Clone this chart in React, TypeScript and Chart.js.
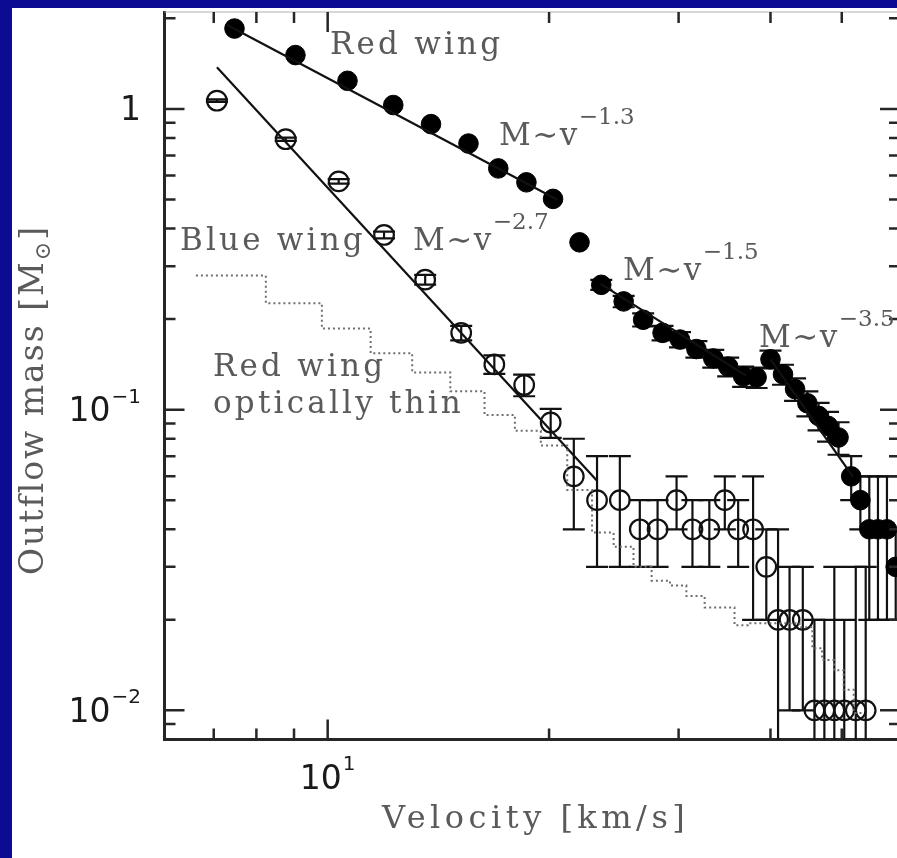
import React, { useEffect, useRef } from 'react';
import { Chart, registerables } from 'chart.js';

Chart.register(...registerables);

// ---------------- data ----------------
const redWingVelocity = [7.47, 9.04, 10.64, 12.28, 13.82, 15.54, 17.06, 18.63, 20.25, 22.0, 23.55, 25.26, 26.85, 28.53, 30.13, 31.72, 33.44, 35.04, 36.72, 38.3, 40.0, 41.6, 43.2, 44.9, 46.5, 47.9, 49.5, 51.5, 53.0, 54.5, 56.0, 57.6, 59.2];
const redWingMass = [1.85, 1.51, 1.24, 1.03, 0.89, 0.767, 0.634, 0.57, 0.502, 0.36, 0.26, 0.229, 0.199, 0.18, 0.171, 0.159, 0.148, 0.139, 0.129, 0.128, 0.147, 0.131, 0.117, 0.105, 0.0953, 0.0883, 0.0808, 0.06, 0.05, 0.04, 0.04, 0.04, 0.03];
const redWingError = [0, 0, 0, 0, 0, 0, 0, 0, 0, 0, 0.01, 0.01, 0.01, 0.01, 0.01, 0.01, 0.01, 0.01, 0.01, 0.01, 0.01, 0.01, 0.01, 0.01, 0.01, 0.01, 0.01, 0.01, 0.01, 0.02, 0.02, 0.02, 0.01];

const blueWingVelocity = [7.07, 8.77, 10.35, 11.93, 13.57, 15.19, 16.85, 18.5, 20.1, 21.61, 23.24, 24.96, 26.57, 28.09, 29.81, 31.33, 33.03, 34.67, 36.15, 37.88, 39.48, 40.96, 42.46, 44.26, 45.9, 47.35, 48.85, 50.39, 52.24, 53.89];
const blueWingMass = [1.065, 0.793, 0.574, 0.381, 0.2705, 0.18, 0.1414, 0.1208, 0.0906, 0.06, 0.05, 0.05, 0.04, 0.04, 0.05, 0.04, 0.04, 0.05, 0.04, 0.04, 0.03, 0.02, 0.02, 0.02, 0.01, 0.01, 0.01, 0.01, 0.01, 0.01];
const blueWingError = [0.01, 0.01, 0.01, 0.01, 0.01, 0.01, 0.01, 0.01, 0.01, 0.02, 0.02, 0.02, 0.01, 0.01, 0.01, 0.01, 0.01, 0.01, 0.01, 0.02, 0.01, 0.02, 0.01, 0.01, 0.01, 0.01, 0.02, 0.01, 0.02, 0.02];

// optically thin red wing (histogram: left bin edge, value)
const thinVelocity = [6.62, 8.24, 9.82, 11.44, 13.03, 14.68, 16.34, 17.97, 19.49, 21.17, 22.88, 24.48, 26.05, 27.57, 29.2, 30.74, 32.55, 35.74, 37.25, 43.8, 45.6, 47.0, 48.8, 50.3, 51.9, 53.5];
const thinMass = [0.279, 0.226, 0.186, 0.154, 0.133, 0.115, 0.096, 0.085, 0.076, 0.054, 0.039, 0.035, 0.03, 0.027, 0.026, 0.024, 0.022, 0.0192, 0.0195, 0.0189, 0.0161, 0.0147, 0.0136, 0.0117, 0.0098, 0.0098];

// power-law fits (end points)
const fitRed13Velocity = [7.3, 20.5];
const fitRed13Mass = [1.9, 0.5];
const fitBlue27Velocity = [7.07, 23.24];
const fitBlue27Mass = [1.375, 0.058];
const fitRed15Velocity = [23.5, 37.0];
const fitRed15Mass = [0.262, 0.13];
const fitRed35Velocity = [40.0, 51.8];
const fitRed35Mass = [0.147, 0.0598];

// axes
const xMin = 6, xMax = 60, yMin = 0.008, yMax = 2.1;
const yMajorTicks = [1, 0.1, 0.01];
const yMajorLabelBase = ['1', '10', '10'];
const yMajorLabelExp = ['', '−1', '−2'];
const yMinorTicks = [0.008, 0.009, 0.02, 0.03, 0.04, 0.05, 0.06, 0.07, 0.08, 0.09, 0.2, 0.3, 0.4, 0.5, 0.6, 0.7, 0.8, 0.9, 2];
const xMajorTicks = [10];
const xMajorLabelBase = ['10'];
const xMajorLabelExp = ['1'];
const xMinorTicks = [7, 8, 9, 20, 30, 40, 50];

const xTitle = 'Velocity [km/s]';
const yTitleMain = 'Outflow mass [M';
const yTitleSub = '⊙';
const yTitleEnd = ']';

const textLabels = [
  { text: 'Red wing', x: 330, y: 54 },
  { text: 'Blue wing', x: 180, y: 250 },
  { text: 'Red wing', x: 213, y: 376 },
  { text: 'optically thin', x: 213, y: 413 },
];
const powerLabels = [
  { base: 'M∼v', exp: '−1.3', x: 499, y: 145 },
  { base: 'M∼v', exp: '−2.7', x: 413, y: 250 },
  { base: 'M∼v', exp: '−1.5', x: 623, y: 280 },
  { base: 'M∼v', exp: '−3.5', x: 759, y: 347 },
];

const SERIF = '"DejaVu Serif", "Liberation Serif", serif';
const SANS = '"DejaVu Sans", "Liberation Sans", sans-serif';
const TEXT_GRAY = '#5a5a5a';
const INK = '#111111';
const AXIS = '#262626';
const BORDER_BLUE = '#0c0b94';

const pts = (xs: number[], ys: number[]) => xs.map((x, i) => ({ x, y: ys[i] }));

const figurePlugin = {
  id: 'figure',
  beforeDraw(chart: any) {
    const { ctx, width, height } = chart;
    ctx.save();
    ctx.fillStyle = '#ffffff';
    ctx.fillRect(0, 0, width, height);
    ctx.restore();
  },
  beforeDatasetsDraw(chart: any) {
    const { ctx, chartArea, scales } = chart;
    const xs = scales.x, ys = scales.y;
    ctx.save();
    ctx.beginPath();
    ctx.rect(chartArea.left, chartArea.top, chartArea.right - chartArea.left, chartArea.bottom - chartArea.top);
    ctx.clip();
    ctx.strokeStyle = INK;
    ctx.lineWidth = 2.2;
    chart.data.datasets.forEach((ds: any) => {
      if (!ds.errorBars) return;
      ds.data.forEach((p: any, i: number) => {
        const e = ds.errorBars[i];
        if (!e) return;
        const px = xs.getPixelForValue(p.x);
        const hi = ys.getPixelForValue(p.y + e);
        const lo = p.y - e > 0 ? ys.getPixelForValue(p.y - e) : chartArea.bottom + 10;
        const cap = 11;
        ctx.beginPath();
        ctx.moveTo(px, hi);
        ctx.lineTo(px, lo);
        ctx.moveTo(px - cap, hi);
        ctx.lineTo(px + cap, hi);
        if (p.y - e > 0) {
          ctx.moveTo(px - cap, lo);
          ctx.lineTo(px + cap, lo);
        }
        ctx.stroke();
      });
    });
    ctx.restore();
  },
  afterDatasetsDraw(chart: any) {
    const { ctx, chartArea, scales } = chart;
    const xs = scales.x, ys = scales.y;
    const { left, right, top, bottom } = chartArea;
    ctx.save();
    // faint top frame line
    ctx.strokeStyle = '#b0b0b0';
    ctx.lineWidth = 1;
    ctx.beginPath();
    ctx.moveTo(left, top);
    ctx.lineTo(right, top);
    ctx.stroke();

    // inward ticks on all four sides
    ctx.strokeStyle = AXIS;
    ctx.lineWidth = 2.5;
    const major = 20, minor = 11;
    const yTick = (v: number, len: number) => {
      const py = ys.getPixelForValue(v);
      ctx.beginPath();
      ctx.moveTo(left, py); ctx.lineTo(left + len, py);
      ctx.moveTo(right, py); ctx.lineTo(right - len, py);
      ctx.stroke();
    };
    const xTick = (v: number, len: number) => {
      const px = xs.getPixelForValue(v);
      ctx.beginPath();
      ctx.moveTo(px, bottom); ctx.lineTo(px, bottom - len);
      ctx.moveTo(px, top); ctx.lineTo(px, top + len);
      ctx.stroke();
    };
    yMajorTicks.forEach(v => yTick(v, major));
    yMinorTicks.forEach(v => yTick(v, minor));
    xMajorTicks.forEach(v => xTick(v, major));
    xMinorTicks.forEach(v => xTick(v, minor));

    // tick labels
    ctx.fillStyle = '#1a1a1a';
    ctx.textBaseline = 'alphabetic';
    const baseFont = `33px ${SANS}`;
    const expFont = `20px ${SANS}`;
    yMajorTicks.forEach((v, i) => {
      const py = ys.getPixelForValue(v);
      const rightEdge = 141;
      ctx.font = expFont;
      const ew = yMajorLabelExp[i] ? ctx.measureText(yMajorLabelExp[i]).width : 0;
      ctx.font = baseFont;
      const bw = ctx.measureText(yMajorLabelBase[i]).width;
      const bx = rightEdge - ew - bw - (ew ? 1 : 0);
      ctx.fillText(yMajorLabelBase[i], bx, py + 11.5);
      if (ew) {
        ctx.font = expFont;
        ctx.fillText(yMajorLabelExp[i], rightEdge - ew, py - 7);
      }
    });
    xMajorTicks.forEach((v, i) => {
      const px = xs.getPixelForValue(v);
      ctx.font = expFont;
      const ew = ctx.measureText(xMajorLabelExp[i]).width;
      ctx.font = baseFont;
      const bw = ctx.measureText(xMajorLabelBase[i]).width;
      const total = bw + 1 + ew;
      const x0 = px - total / 2;
      ctx.fillText(xMajorLabelBase[i], x0, 789);
      ctx.font = expFont;
      ctx.fillText(xMajorLabelExp[i], x0 + bw + 1, 770);
    });

    // annotations
    ctx.fillStyle = TEXT_GRAY;
    const annFont = `31px ${SERIF}`;
    const supFont = `23px ${SERIF}`;
    (ctx as any).letterSpacing = '3.2px';
    ctx.font = annFont;
    textLabels.forEach(t => ctx.fillText(t.text, t.x, t.y));
    powerLabels.forEach(t => {
      ctx.font = annFont;
      (ctx as any).letterSpacing = '1.5px';
      const w = ctx.measureText(t.base).width;
      ctx.fillText(t.base, t.x, t.y);
      ctx.font = supFont;
      (ctx as any).letterSpacing = '0px';
      ctx.fillText(t.exp, t.x + w, t.y - 21);
    });

    // x title
    ctx.font = `32px ${SERIF}`;
    (ctx as any).letterSpacing = '4.5px';
    ctx.fillText(xTitle, 382, 828);

    // y title (rotated)
    ctx.save();
    ctx.translate(43, 400);
    ctx.rotate(-Math.PI / 2);
    ctx.font = `33px ${SERIF}`;
    (ctx as any).letterSpacing = '2px';
    const w1 = ctx.measureText(yTitleMain).width;
    ctx.font = `22px ${SERIF}`;
    (ctx as any).letterSpacing = '0px';
    const w2 = ctx.measureText(yTitleSub).width;
    ctx.font = `33px ${SERIF}`;
    (ctx as any).letterSpacing = '2px';
    const w3 = ctx.measureText(yTitleEnd).width;
    const total = w1 + w2 + 2 + w3;
    let x0 = -total / 2;
    ctx.fillText(yTitleMain, x0, 0);
    x0 += w1;
    ctx.font = `22px ${SERIF}`;
    (ctx as any).letterSpacing = '0px';
    ctx.fillText(yTitleSub, x0, 7);
    x0 += w2 + 2;
    ctx.font = `33px ${SERIF}`;
    ctx.fillText(yTitleEnd, x0, 0);
    ctx.restore();

    ctx.restore();
  },
  afterDraw(chart: any) {
    const { ctx, width, height } = chart;
    ctx.save();
    ctx.fillStyle = BORDER_BLUE;
    ctx.fillRect(0, 0, 12, height);
    ctx.fillRect(0, 0, width, 8);
    ctx.restore();
  },
};

export default function App() {
  const canvasRef = useRef<HTMLCanvasElement | null>(null);

  useEffect(() => {
    const canvas = canvasRef.current;
    if (!canvas) return;
    const chart = new Chart(canvas, {
      type: 'scatter',
      data: {
        datasets: [
          {
            label: 'Red wing optically thin',
            data: pts(thinVelocity, thinMass),
            showLine: true,
            stepped: true,
            borderColor: '#6e6e6e',
            borderWidth: 2,
            borderDash: [2, 3],
            pointRadius: 0,
            fill: false,
          } as any,
          {
            label: 'fit -1.3',
            data: pts(fitRed13Velocity, fitRed13Mass),
            showLine: true,
            borderColor: INK,
            borderWidth: 2.2,
            pointRadius: 0,
          },
          {
            label: 'fit -2.7',
            data: pts(fitBlue27Velocity, fitBlue27Mass),
            showLine: true,
            borderColor: INK,
            borderWidth: 2.2,
            pointRadius: 0,
          },
          {
            label: 'fit -1.5',
            data: pts(fitRed15Velocity, fitRed15Mass),
            showLine: true,
            borderColor: INK,
            borderWidth: 2.2,
            pointRadius: 0,
          },
          {
            label: 'fit -3.5',
            data: pts(fitRed35Velocity, fitRed35Mass),
            showLine: true,
            borderColor: INK,
            borderWidth: 2.2,
            pointRadius: 0,
          },
          {
            label: 'Blue wing',
            data: pts(blueWingVelocity, blueWingMass),
            errorBars: blueWingError,
            pointStyle: 'circle',
            pointRadius: 9.8,
            pointBorderWidth: 2.2,
            borderColor: INK,
            backgroundColor: 'rgba(0,0,0,0)',
            pointBackgroundColor: 'rgba(0,0,0,0)',
            pointBorderColor: INK,
          } as any,
          {
            label: 'Red wing',
            data: pts(redWingVelocity, redWingMass),
            errorBars: redWingError,
            pointStyle: 'circle',
            pointRadius: 9.8,
            pointBorderWidth: 1,
            borderColor: '#000',
            backgroundColor: '#000',
            pointBackgroundColor: '#000',
            pointBorderColor: '#000',
          } as any,
        ],
      },
      options: {
        responsive: false,
        animation: false,
        layout: { padding: { top: 9.5, right: 7.5, left: 0, bottom: 0 } },
        plugins: { legend: { display: false }, tooltip: { enabled: false } },
        scales: {
          x: {
            type: 'logarithmic',
            min: xMin,
            max: xMax,
            position: 'bottom',
            grid: { display: false },
            ticks: { display: false },
            border: { display: true, width: 3, color: AXIS },
            afterFit: (s: any) => { s.height = 118.5; },
          },
          y: {
            type: 'logarithmic',
            min: yMin,
            max: yMax,
            position: 'left',
            grid: { display: false },
            ticks: { display: false },
            border: { display: true, width: 3, color: AXIS },
            afterFit: (s: any) => { s.width = 164.5; },
          },
        },
      } as any,
      plugins: [figurePlugin],
    });
    return () => chart.destroy();
  }, []);

  return (
    <div style={{ position: 'fixed', left: 0, top: 0, width: 897, height: 858, overflow: 'hidden', background: '#fff' }}>
      <canvas ref={canvasRef} width={912} height={858} style={{ display: 'block', width: 912, height: 858 }} />
    </div>
  );
}
